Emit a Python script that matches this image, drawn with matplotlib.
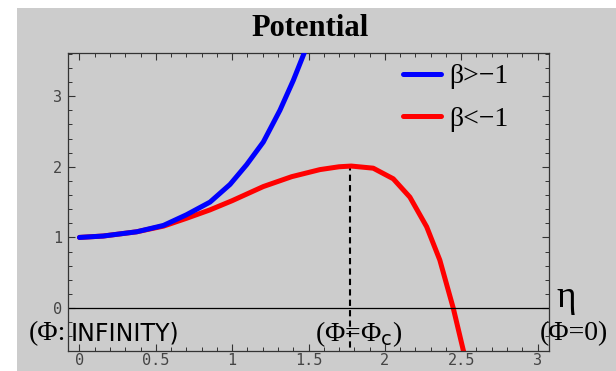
import matplotlib
matplotlib.use('Agg')
import matplotlib.pyplot as plt
from matplotlib.patches import Rectangle
from matplotlib.ticker import MultipleLocator

# curves
blue_x = [0, 0.156, 0.375, 0.55, 0.70, 0.855, 0.986, 1.095, 1.204, 1.313, 1.40, 1.47, 1.50]
blue_y = [1.0, 1.02, 1.08, 1.17, 1.32, 1.50, 1.75, 2.03, 2.35, 2.80, 3.22, 3.60, 3.8]
red_x = [0, 0.156, 0.375, 0.55, 0.70, 0.855, 1.0, 1.204, 1.39, 1.575, 1.70, 1.78,
         1.924, 2.055, 2.164, 2.274, 2.36, 2.448, 2.513, 2.53]
red_y = [1.0, 1.02, 1.08, 1.16, 1.27, 1.39, 1.52, 1.72, 1.86, 1.96, 2.0, 2.01,
         1.98, 1.83, 1.57, 1.15, 0.68, 0.0, -0.59, -0.72]
phi_c = 1.775
labels = ['β>−1', 'β<−1']
xticks = [0, 0.5, 1, 1.5, 2, 2.5, 3]
yticks = [0, 1, 2, 3]
gray = '#cccccc'

W, H = 616, 371
fig = plt.figure(figsize=(W/100, H/100), dpi=100, facecolor='white')
fig.patches.append(Rectangle((17/W, 0), 1, 1 - 8/H, transform=fig.transFigure,
                             facecolor=gray, edgecolor='none', zorder=-10))
ax = fig.add_axes([68/W, 1 - 350.5/H, (549-68)/W, (350.5-53)/H])
ax.set_facecolor(gray)

ax.plot(blue_x, blue_y, color='#0000ff', lw=3.6, solid_capstyle='round',
        solid_joinstyle='round', label=labels[0], zorder=3)
ax.plot(red_x, red_y, color='#ff0000', lw=3.6, solid_capstyle='round',
        solid_joinstyle='round', label=labels[1], zorder=2)
ax.axhline(0, color='black', lw=0.9)
ax.plot([phi_c, phi_c], [-0.7, 2.0], color='black', ls=(0, (3, 2)), lw=1.5, zorder=1)

ax.set_xlim(-0.075, 3.075)
ax.set_ylim(-0.60, 3.61)
ax.set_xticks(xticks)
ax.set_xticklabels([str(t) for t in xticks])
ax.set_yticks(yticks)
ax.set_yticklabels([str(t) for t in yticks])
ax.xaxis.set_minor_locator(MultipleLocator(0.1))
ax.yaxis.set_minor_locator(MultipleLocator(0.2))
ax.tick_params(which='both', direction='in', top=True, right=True, color='#333333',
               labelsize=11, labelcolor='#444444')
ax.tick_params(axis='x', pad=2)
ax.tick_params(axis='y', pad=4)
ax.tick_params(which='major', length=5, width=0.8)
ax.tick_params(which='minor', length=3, width=0.7)
for lab in ax.get_xticklabels() + ax.get_yticklabels():
    lab.set_family('DejaVu Sans Mono')
for s in ax.spines.values():
    s.set_color('#333333')
    s.set_linewidth(0.9)

ax_w, ax_h = 549 - 68, 350.5 - 53
leg = ax.legend(loc='upper left', bbox_to_anchor=((403-68)/ax_w, 1 - (64-53)/ax_h),
                frameon=False, prop={'family': 'Liberation Serif', 'size': 20},
                handlelength=1.35, handletextpad=0.3, labelspacing=0.62,
                borderaxespad=0, borderpad=0)

fig.text(310/W, 1 - 28/H, 'Potential', ha='center', va='center',
         family='Liberation Serif', weight='bold', size=22)
fig.text(566/W, 1 - 298/H, 'η', ha='center', va='center', family='Liberation Serif', size=27)
fig.text(574/W, 1 - 334/H, '(Φ=0)', ha='center', va='center', family='Liberation Serif', size=20)
fig.text(29/W, 1 - 334/H, '(Φ:', ha='left', va='center', family='Liberation Serif', size=20)
fig.text(71/W, 1 - 334/H, 'INFINITY)', ha='left', va='center', family='DejaVu Sans', size=17)
fig.text(359/W, 1 - 334/H, '(Φ=Φ$_{\\mathsf{c}}$)', ha='center', va='center',
         family='Liberation Serif', size=20)

fig.savefig('out.png', dpi=100, facecolor='white')
